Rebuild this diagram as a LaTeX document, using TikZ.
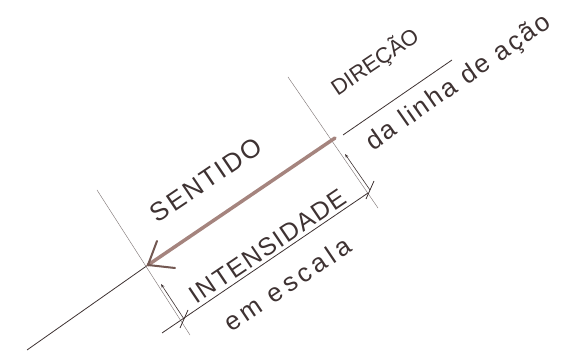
\documentclass[tikz,border=0pt]{standalone}
\usepackage{fontspec}
\setmainfont{Liberation Sans}
\usetikzlibrary{arrows.meta,positioning,calc}
\definecolor{pencil}{RGB}{62,50,50}
\definecolor{forcecolor}{RGB}{165,132,126}
\definecolor{barbcolor}{RGB}{115,88,82}

\begin{document}
\begin{tikzpicture}[x=1pt,y=1pt,
  line/.style={draw=pencil, line width=0.8pt},
  ext/.style={draw=pencil!65, line width=0.45pt},
  force/.style={draw=forcecolor, line width=3.5pt, line cap=round},
  barb/.style={draw=barbcolor, line width=2pt, line cap=round, line join=round},
  dimarr/.style={draw=pencil, line width=0.6pt, -{Stealth[length=4pt,width=3pt]}},
  tickmark/.style={draw=pencil, line width=0.8pt},
  lbl/.style={text=pencil, inner sep=0pt, rotate=34}
]
\useasboundingbox (0,0) rectangle (563,362);

% Line of action
\coordinate (lowend) at (27,12);
\coordinate (tip) at (148,97);
\coordinate (tail) at (335,224);
\coordinate (upstart) at (343,227);
\coordinate (upend) at (452,302);
\draw[line] (lowend) -- (tip);
\draw[line] (upstart) -- (upend);

% Extension lines
\coordinate (tiptop) at (97,172);
\coordinate (tipbot) at (190,27);
\coordinate (tailtop) at (288,285);
\coordinate (tailbot) at (378,154);
\draw[ext] (tiptop) -- (tipbot);
\draw[ext] (tailtop) -- (tailbot);

% Force
\coordinate (barbA) at (157,121);
\coordinate (barbB) at (175,94);
\draw[force] (tail) -- (tip);
\draw[barb] (barbA) -- (tip) -- (barbB);

% Intensity dimension
\coordinate (dimstart) at (162,29);
\coordinate (dimend) at (368,169);
\coordinate (tickL) at (184,43);
\coordinate (tickR) at (370,172);
\coordinate (headL) at (161,78);
\coordinate (headR) at (345,208);
\draw[line] (dimstart) -- (dimend);
\draw[dimarr] (tickL) -- (headL);
\draw[dimarr] (tickR) -- (headR);
\draw[tickmark] ($(tickL)+(-4,-9)$) -- ($(tickL)+(4,9)$);
\draw[tickmark] ($(tickR)+(-4,-9)$) -- ($(tickR)+(4,9)$);

% Labels
\node[lbl, font={\fontsize{26}{26}\selectfont\addfontfeatures{LetterSpace=8}}]
     (sentido) at (206,182) {SENTIDO};
\node[lbl, font={\fontsize{25}{25}\selectfont\addfontfeatures{LetterSpace=6}}]
     (intens) at (268,116) {INTENSIDADE};
\node[lbl, font={\fontsize{26}{26}\selectfont\addfontfeatures{LetterSpace=16}}]
     (escala) at (287,78) {em escala};
\node[lbl, font={\fontsize{22}{22}\selectfont}]
     (direcao) at (375,300) {DIREÇÃO};
\node[lbl, rotate=1, font={\fontsize{26}{26}\selectfont\addfontfeatures{LetterSpace=9}}]
     (linha) at (459,279) {da linha de ação};

\end{tikzpicture}
\end{document}
